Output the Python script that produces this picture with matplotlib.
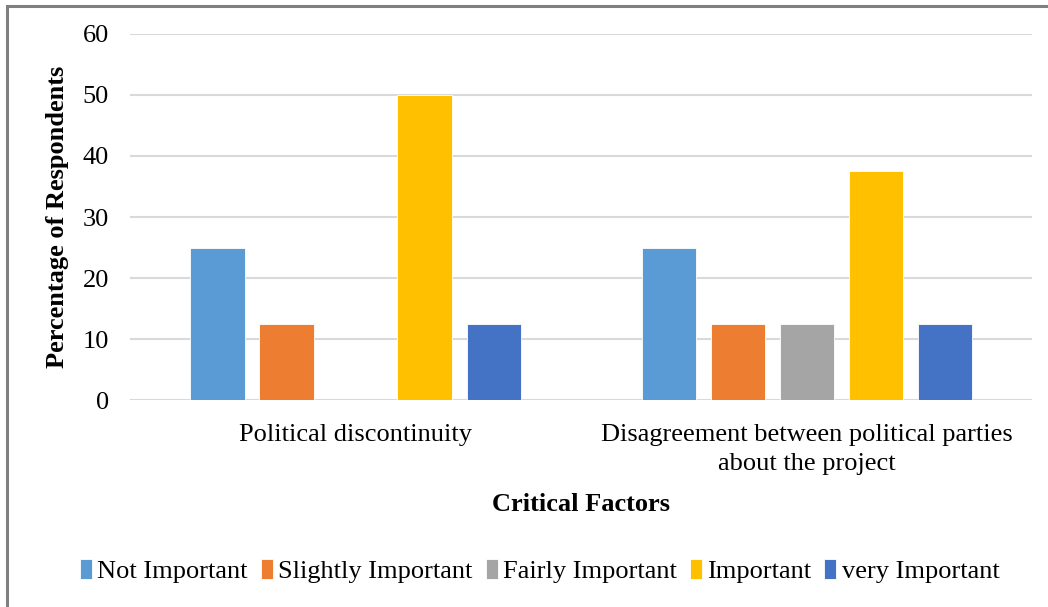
import matplotlib.pyplot as plt
import numpy as np
from matplotlib.patches import Rectangle

plt.rcParams['font.family'] = ['Liberation Serif', 'DejaVu Serif']

factors = ['Political discontinuity',
           'Disagreement between political parties\nabout the project']
levels = ['Not Important', 'Slightly Important', 'Fairly Important',
          'Important', 'very Important']
not_important = [25, 25]
slightly_important = [12.5, 12.5]
fairly_important = [0, 12.5]
important = [50, 37.5]
very_important = [12.5, 12.5]

series = [not_important, slightly_important, fairly_important,
          important, very_important]
colors = ['#5b9bd5', '#ed7d31', '#a5a5a5', '#ffc000', '#4472c4']

fig = plt.figure(figsize=(10.48, 6.07), dpi=100)
ax = fig.add_axes([0.124, 0.341, 0.861, 0.603])

x = np.arange(len(factors))
width = 0.12
step = 0.153
for i, (vals, c) in enumerate(zip(series, colors)):
    ax.bar(x + (i - 2) * step, vals, width, color=c, label=levels[i],
           edgecolor='white', linewidth=0.6, zorder=3)

ax.set_xlim(-0.5, 1.5)
ax.set_ylim(0, 60)
ax.set_yticks(range(0, 61, 10))
ax.yaxis.grid(True, color='#d9d9d9', linewidth=1.5, zorder=0)
for s in ax.spines.values():
    s.set_visible(False)
ax.tick_params(axis='both', length=0, labelsize=19, colors='black')
ax.tick_params(axis='y', pad=15)
ax.tick_params(axis='x', pad=17)
ax.set_xticks(x)
ax.set_xticklabels(factors, linespacing=1.45)

ax.set_ylabel('Percentage of Respondents', fontsize=19, fontweight='bold',
              labelpad=10)
ax.set_xlabel('Critical Factors', fontsize=19, fontweight='bold', labelpad=13)

handles, labels = ax.get_legend_handles_labels()
fig.legend(handles, labels, loc='center', bbox_to_anchor=(0.515, 0.059),
           ncol=5, frameon=False, fontsize=19, handlelength=0.45,
           handleheight=0.75, handletextpad=0.2, columnspacing=0.5,
           borderaxespad=0)

# gray frame around the chart
fig.patches.append(Rectangle((7 / 1048, -0.05), 1.1, 1 - 6 / 607 + 0.05,
                             transform=fig.transFigure, fill=False,
                             edgecolor='#808080', linewidth=2.2))

fig.savefig('out.png', dpi=100)
